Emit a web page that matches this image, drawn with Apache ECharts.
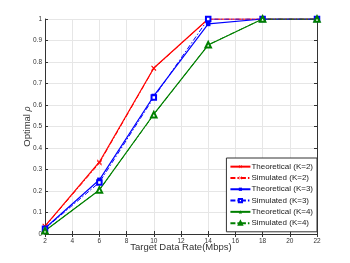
<!DOCTYPE html>
<html><head><meta charset="utf-8">
<script src="https://cdn.jsdelivr.net/npm/echarts@6/dist/echarts.min.js"></script>
<style>html,body{margin:0;padding:0;background:#fff}#c{width:350px;height:263px}</style>
</head><body><div id="c"></div>
<script>
const xs = [2, 6, 10, 14, 18, 22];
const theoK2 = [0.037, 0.335, 0.772, 1, 1, 1];
const simK2  = [0.035, 0.33, 0.77, 1, 1, 1];
const theoK3 = [0.027, 0.252, 0.642, 0.977, 1, 1];
const simK3  = [0.025, 0.24, 0.635, 1, 1, 1];
const theoK4 = [0.015, 0.205, 0.557, 0.879, 1, 1];
const simK4  = [0.015, 0.205, 0.555, 0.88, 1, 1];
const names = ['Theoretical (K=2)','Simulated (K=2)','Theoretical (K=3)','Simulated (K=3)','Theoretical (K=4)','Simulated (K=4)'];
const xTicks = [2,4,6,8,10,12,14,16,18,20,22];
const yTicks = [0,0.1,0.2,0.3,0.4,0.5,0.6,0.7,0.8,0.9,1];

const FONT = 'Liberation Sans';
const crossPath = 'path://M0,1L1,0L5,4L9,0L10,1L6,5L10,9L9,10L5,6L1,10L0,9L4,5Z';
const dashDot = [5, 2, 1.5, 2];
function pairs(v){ return xs.map((x,i)=>[x,v[i]]); }
function mk(name, data, color, symbol, size, dashed){
  return {
    name, type:'line', data:pairs(data), symbol, symbolSize:size,
    showAllSymbol:true,
    lineStyle:{color, width: dashed?1:1.2, type: dashed?dashDot:'solid'},
    itemStyle:{color, borderColor:color, borderWidth: symbol.startsWith('empty')?1:0},
    emphasis:{disabled:true}, animation:false, z: dashed?3:2
  };
}
const chart = echarts.init(document.getElementById('c'), null, {renderer:'canvas'});
const axCommon = {
  axisLine:{show:true, lineStyle:{color:'#333', width:1}},
  axisTick:{show:true, inside:true, length:3, lineStyle:{color:'#333'}},
};
chart.setOption({
  animation:false,
  backgroundColor:'#fff',
  textStyle:{fontFamily:FONT},
  grid:{left:45, right:33, top:19, bottom:29, show:false},
  xAxis:[{
    type:'value', min:2, max:22, interval:2, position:'bottom',
    ...axCommon,
    axisLabel:{fontSize:6.5, color:'#333', margin:4, fontFamily:FONT,
      formatter:v=>xTicks.includes(v)?String(v):''},
    splitLine:{show:true, lineStyle:{color:'#e6e6e6', width:1}},
    name:'Target Data Rate(Mbps)', nameLocation:'middle', nameGap:8, nameMoveOverlap:false,
    nameTextStyle:{fontSize:9.5, color:'#333', fontFamily:FONT}
  },{
    type:'value', min:2, max:22, interval:2, position:'top',
    ...axCommon, axisLabel:{show:false}, splitLine:{show:false}
  }],
  yAxis:[{
    type:'value', min:0, max:1, interval:0.1, position:'left',
    ...axCommon,
    axisLabel:{fontSize:6.5, color:'#333', margin:3, fontFamily:FONT,
      formatter:v=>{const t=yTicks.find(y=>Math.abs(y-v)<1e-9); return t===undefined?'':String(t);}},
    splitLine:{show:true, lineStyle:{color:'#e6e6e6', width:1}},
    name:'Optimal {i|ρ}', nameLocation:'middle', nameGap:13, nameRotate:90, nameMoveOverlap:false,
    nameTextStyle:{fontSize:9.5, color:'#333', fontFamily:FONT,
      rich:{i:{fontStyle:'italic', fontSize:9, fontFamily:FONT, color:'#333'}}}
  },{
    type:'value', min:0, max:1, interval:0.1, position:'right',
    ...axCommon, axisLabel:{show:false}, splitLine:{show:false}
  }],
  legend:{
    orient:'vertical', right:33, top:158,
    backgroundColor:'#fff', borderColor:'#333', borderWidth:1, borderRadius:0,
    padding:[3,4,3,3], itemGap:0, itemWidth:20, itemHeight:4,
    textStyle:{fontSize:8, color:'#222', fontFamily:FONT, lineHeight:11.3, padding:[0,0,0,-4]},
    data:names
  },
  series:[
    mk(names[0], theoK2, '#ff0000', crossPath, 5, false),
    mk(names[1], simK2, '#ff0000', crossPath, 5, true),
    mk(names[2], theoK3, '#0000ff', 'rect', 4.5, false),
    mk(names[3], simK3, '#0000ff', 'emptyRect', 4.5, true),
    mk(names[4], theoK4, '#008000', 'triangle', 5.5, false),
    mk(names[5], simK4, '#008000', 'emptyTriangle', 5.5, true)
  ]
});
</script></body></html>
